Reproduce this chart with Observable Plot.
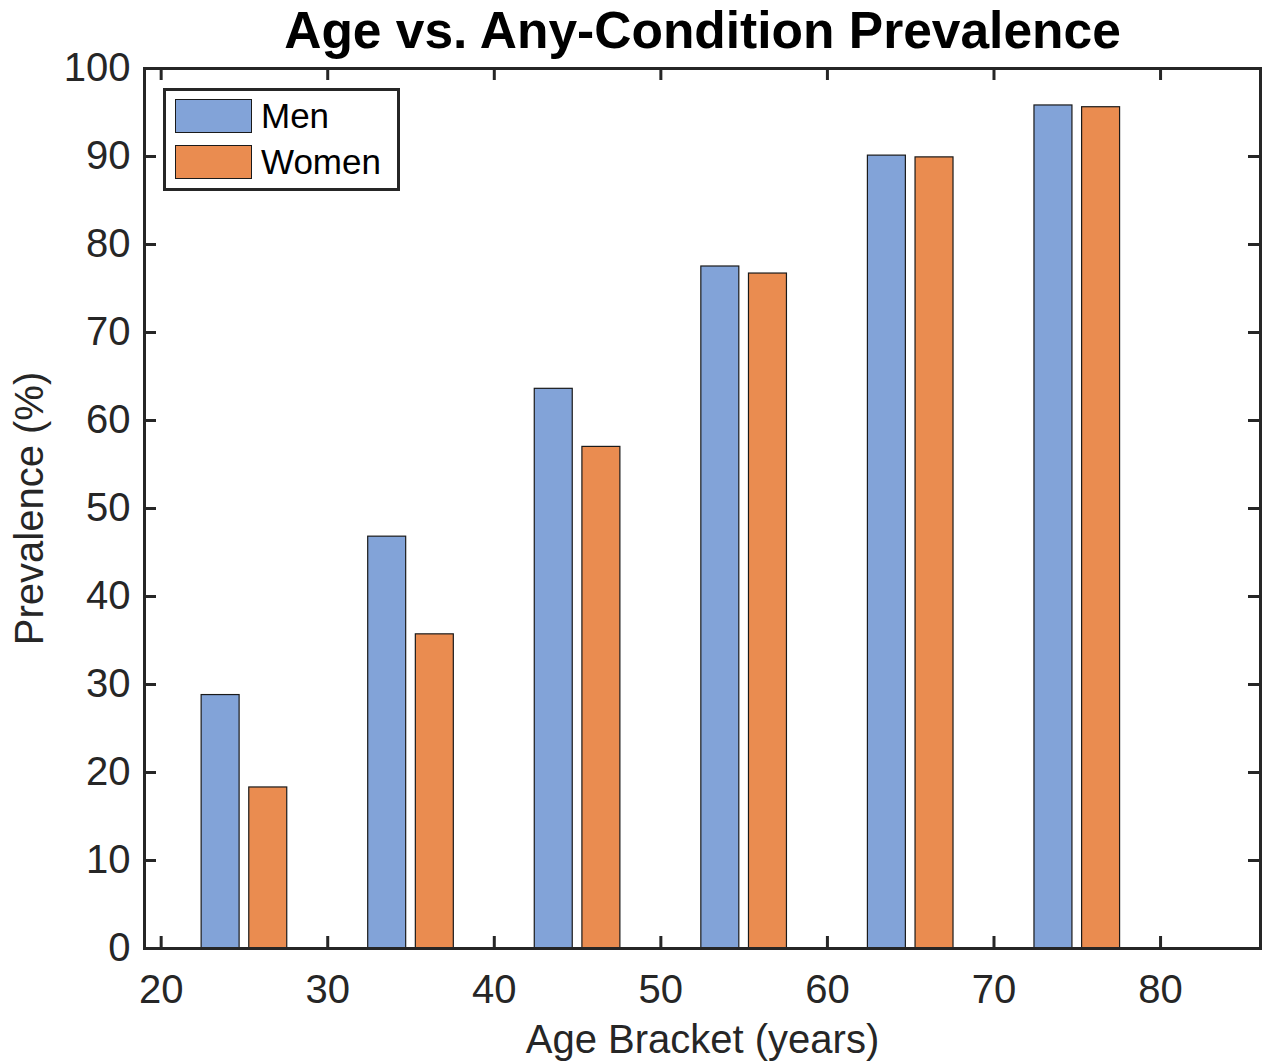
<!DOCTYPE html>
<html><head><meta charset="utf-8">
<script src="https://cdn.jsdelivr.net/npm/d3@7"></script>
<script src="https://cdn.jsdelivr.net/npm/@observablehq/plot@0.6"></script>
<style>
body{margin:0;background:#fff;}
#wrap{position:relative;width:1269px;height:1063px;font-family:"Liberation Sans",Arial,Helvetica,sans-serif;}
#legend{position:absolute;left:163px;top:88px;width:237px;height:103px;box-sizing:border-box;border:3px solid #262626;background:#fff;}
.sw{position:absolute;left:9px;width:77px;height:34px;box-sizing:border-box;border:1px solid #1a1a1a;}
.lt{position:absolute;left:95px;height:34px;line-height:34px;font-size:35px;color:#000;white-space:nowrap;}
</style>
</head><body>
<div id="wrap"></div>
<script>
const ages = [25, 35, 45, 55, 65, 75];
const men = [28.8, 46.8, 63.6, 77.5, 90.1, 95.8];
const women = [18.3, 35.7, 57.0, 76.7, 89.9, 95.6];
const seriesNames = ["Men", "Women"];
const seriesColors = ["#82a3d8", "#ea8c50"];
const xTicks = [20, 30, 40, 50, 60, 70, 80];
const yTicks = [0, 10, 20, 30, 40, 50, 60, 70, 80, 90, 100];
const titleText = "Age vs. Any-Condition Prevalence";
const xLabel = "Age Bracket (years)";
const yLabel = "Prevalence (%)";

const W = 1269, H = 1063, mL = 144, mR = 9, mT = 68, mB = 115;
const fw = W - mL - mR, fh = H - mT - mB;
const off = 1.43, bw = 2.28;
const rows = [];
ages.forEach((a, i) => {
  rows.push({age: a, s: seriesNames[0], v: men[i], x1: a - off - bw / 2, x2: a - off + bw / 2});
  rows.push({age: a, s: seriesNames[1], v: women[i], x1: a + off - bw / 2, x2: a + off + bw / 2});
});
const axisColor = "#262626";

const chart = Plot.plot({
  width: W, height: H,
  marginLeft: mL, marginRight: mR, marginTop: mT, marginBottom: mB,
  style: {fontSize: "40px", fontFamily: "'Liberation Sans', Arial, Helvetica, sans-serif", background: "#fff", color: axisColor},
  x: {domain: [19, 86]},
  y: {domain: [0, 100]},
  color: {domain: seriesNames, range: seriesColors},
  marks: [
    Plot.rectY(rows, {x1: "x1", x2: "x2", y1: 0, y2: "v", fill: "s", stroke: "#1a1a1a", strokeWidth: 1.2}),
    Plot.tickX(xTicks, {x: d => d, insetTop: fh - 12, stroke: axisColor, strokeWidth: 3}),
    Plot.tickX(xTicks, {x: d => d, insetBottom: fh - 12, stroke: axisColor, strokeWidth: 3}),
    Plot.tickY(yTicks, {y: d => d, insetRight: fw - 12, stroke: axisColor, strokeWidth: 3}),
    Plot.tickY(yTicks, {y: d => d, insetLeft: fw - 12, stroke: axisColor, strokeWidth: 3}),
    Plot.frame({stroke: axisColor, strokeWidth: 3}),
    Plot.axisX(xTicks, {tickSize: 0, tickPadding: 26, fill: axisColor, label: null}),
    Plot.axisY(yTicks, {tickSize: 0, tickPadding: 14, fill: axisColor, label: null}),
    Plot.text([titleText], {frameAnchor: "top", dy: -37, fontSize: 51.5, fontWeight: "bold", fill: "#000", lineAnchor: "middle", textAnchor: "middle"}),
    Plot.text([xLabel], {frameAnchor: "bottom", dy: 92, fontSize: 40, fill: axisColor, lineAnchor: "middle", textAnchor: "middle"}),
    Plot.text([yLabel], {frameAnchor: "left", dx: -114, rotate: -90, fontSize: 40, fill: axisColor, lineAnchor: "middle", textAnchor: "middle"})
  ]
});
const wrap = document.getElementById("wrap");
wrap.appendChild(chart);
const lg = document.createElement("div");
lg.id = "legend";
seriesNames.forEach((n, i) => {
  const sw = document.createElement("div");
  sw.className = "sw";
  sw.style.top = (8 + i * 46) + "px";
  sw.style.background = seriesColors[i];
  const t = document.createElement("div");
  t.className = "lt";
  t.style.top = (8 + i * 46) + "px";
  t.textContent = n;
  lg.appendChild(sw); lg.appendChild(t);
});
wrap.appendChild(lg);
</script>
</body></html>
